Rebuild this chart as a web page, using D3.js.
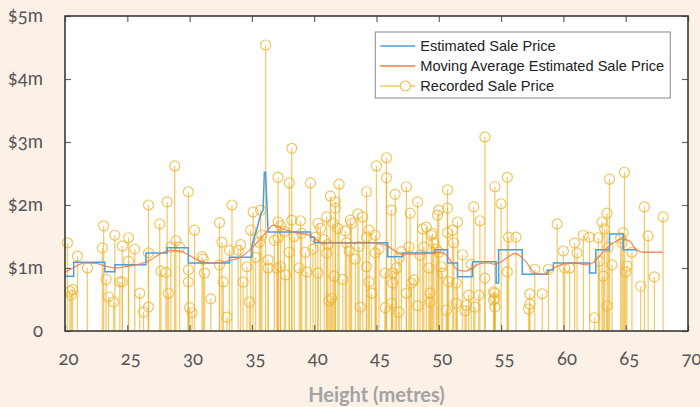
<!DOCTYPE html>
<html>
<head>
<meta charset="utf-8">
<script src="https://cdn.jsdelivr.net/npm/d3@7"></script>
<style>
  body { margin: 0; background: #fcf1e7; }
  svg { display: block; }
  .tick-label text { font-family: Lato, "Open Sans", sans-serif; font-size: 18.5px; fill: #555; font-variant-numeric: oldstyle-nums; font-feature-settings: "onum"; }
  .legend text { font-family: "Liberation Sans", Arial, sans-serif; font-size: 14.6px; fill: #222; }
</style>
</head>
<body>
<div id="chart"></div>
<script>
var xTicks = [20, 25, 30, 35, 40, 45, 50, 55, 60, 65, 70];
var yTicks = [0, 1, 2, 3, 4, 5];

// estimated sale price ($m) vs height, step-like
var estHeight = [20.0, 20.7, 20.7, 23.2, 23.2, 24.0, 24.0, 26.5, 26.5, 28.2, 28.2, 29.9, 29.9, 33.2, 33.2, 35.0,
  35.0, 35.4, 35.7, 35.9, 36.0, 36.1, 36.3, 39.7, 39.7, 40.0, 40.0, 45.9, 45.9, 47.1, 47.1, 49.7, 49.7, 50.7,
  50.7, 51.5, 51.5, 52.7, 52.7, 54.6, 54.6, 54.8, 54.8, 56.7, 56.7, 58.7, 58.7, 59.2, 59.2, 62.1, 62.1, 62.6,
  62.6, 63.7, 63.7, 64.8, 64.8, 65.9];
var estPrice = [0.87, 0.87, 1.09, 1.09, 0.94, 0.94, 1.05, 1.05, 1.24, 1.24, 1.32, 1.32, 1.08, 1.08, 1.17, 1.17,
  1.35, 1.62, 1.85, 1.92, 2.52, 2.52, 1.57, 1.57, 1.49, 1.49, 1.40, 1.40, 1.18, 1.18, 1.24, 1.24, 1.29, 1.29,
  1.08, 1.08, 0.86, 0.86, 1.10, 1.10, 0.76, 0.76, 1.29, 1.29, 0.90, 0.90, 0.97, 0.97, 1.08, 1.08, 0.92, 0.92,
  1.29, 1.29, 1.54, 1.54, 1.29, 1.29];

// moving average
var avgHeight = [20.0, 20.8, 21.6, 22.6, 23.4, 24.2, 25.0, 26.0, 26.8, 27.6, 28.4, 29.2, 29.8, 30.5, 31.5, 32.5,
  33.3, 34.0, 34.8, 35.5, 36.2, 36.7, 37.5, 38.5, 39.5, 40.0, 40.6, 45.0, 45.8, 46.5, 47.0, 48.0, 49.0, 50.0,
  50.5, 51.0, 51.5, 52.2, 52.8, 53.3, 54.0, 54.5, 55.0, 55.6, 56.1, 57.0, 57.7, 58.5, 59.2, 60.0, 61.0, 61.8,
  62.5, 63.2, 64.0, 64.7, 65.3, 65.8, 66.4, 68.0];
var avgPrice = [0.93, 1.02, 1.08, 1.07, 1.02, 1.00, 1.03, 1.06, 1.12, 1.22, 1.28, 1.27, 1.22, 1.14, 1.08, 1.09,
  1.12, 1.16, 1.28, 1.42, 1.58, 1.68, 1.62, 1.56, 1.53, 1.48, 1.40, 1.40, 1.36, 1.27, 1.22, 1.22, 1.23, 1.25,
  1.22, 1.10, 0.97, 0.95, 1.02, 1.07, 1.08, 1.06, 1.10, 1.18, 1.23, 1.10, 0.92, 0.90, 1.00, 1.06, 1.08, 1.05,
  1.10, 1.26, 1.40, 1.46, 1.43, 1.30, 1.25, 1.25];

// recorded sales
var recHeight = [20.2, 20.4, 20.5, 20.6, 21.0, 21.8, 23.0, 23.1, 23.3, 23.5, 23.9, 24.0, 24.4, 24.6, 24.6, 25.1,
  25.1, 25.6, 26.0, 26.3, 26.7, 26.7, 26.7, 27.6, 27.7, 28.1, 28.2, 28.3, 28.5, 28.8, 28.9, 29.2, 29.9, 29.9,
  29.9, 30.0, 30.2, 30.4, 31.0, 31.1, 31.2, 31.7, 32.4, 32.6, 32.4, 32.7, 33.0, 33.4, 33.2, 33.9, 34.1, 34.3,
  34.6, 34.8, 35.1, 35.3, 35.6, 35.7, 36.1, 36.3, 36.3, 37.0, 37.1, 37.1, 37.3, 37.1, 37.3, 37.7, 38.2, 38.0,
  38.2, 38.0, 38.8, 38.9, 38.4, 39.3, 39.4, 39.7, 39.0, 40.1, 40.3, 40.5, 40.3, 41.0, 41.1, 41.0, 41.2, 41.4,
  41.3, 41.5, 41.7, 41.7, 41.9, 41.6, 42.0, 42.5, 42.3, 42.8, 42.9, 43.0, 43.3, 43.5, 43.7, 43.9, 44.2, 44.2,
  44.4, 44.2, 44.4, 44.6, 44.9, 44.9, 45.0, 45.7, 45.7, 45.8, 45.8, 46.2, 46.3, 46.3, 46.5, 46.6, 46.8, 46.2,
  46.8, 47.4, 47.4, 47.6, 47.7, 47.8, 48.0, 48.3, 48.3, 48.7, 48.8, 49.0, 49.2, 49.3, 49.3, 49.4, 49.5, 49.6,
  49.8, 49.9, 50.0, 50.0, 50.2, 50.3, 50.6, 50.7, 50.7, 50.7, 50.8, 51.1, 51.2, 51.4, 51.4, 51.5, 51.9, 52.1,
  52.2, 52.4, 52.9, 53.2, 52.8, 53.3, 53.7, 53.7, 54.4, 54.4, 54.5, 54.5, 54.5, 54.5, 55.0, 55.5, 55.5, 55.6,
  56.2, 57.3, 57.3, 57.2, 57.7, 58.3, 58.8, 59.5, 60.0, 60.1, 60.5, 60.9, 61.1, 61.6, 62.1, 62.5, 62.8, 62.9,
  63.1, 63.2, 63.5, 63.5, 63.6, 63.7, 63.9, 64.7, 64.8, 64.9, 65.0, 65.1, 65.5, 66.2, 66.5, 66.8, 67.3, 68.0,
  34.9, 35.8, 36.8, 37.6, 39.9, 40.8, 42.6, 43.6, 45.2, 47.0, 48.5, 52.6, 63.3, 64.6];
var recPrice = [1.40, 0.63, 0.57, 0.66, 1.19, 1.00, 1.32, 1.67, 0.82, 0.54, 0.46, 1.52, 0.78, 0.78, 1.35, 1.48,
  1.11, 1.30, 0.60, 0.30, 0.38, 1.24, 2.00, 1.70, 0.95, 0.93, 2.05, 0.60, 1.33, 2.62, 1.43, 1.33, 2.21, 0.97,
  0.78, 0.37, 0.29, 1.60, 1.18, 1.14, 0.92, 0.51, 1.72, 1.41, 1.05, 0.78, 0.22, 2.00, 1.28, 1.28, 1.37, 0.78,
  1.02, 0.46, 1.89, 1.17, 1.41, 1.92, 4.54, 1.13, 1.00, 1.00, 2.44, 1.73, 1.67, 1.48, 1.02, 0.89, 2.90, 2.35,
  1.76, 1.25, 1.00, 1.75, 1.50, 1.25, 0.94, 2.35, 1.55, 1.49, 1.71, 1.63, 0.92, 1.81, 1.37, 1.24, 0.48, 0.52,
  2.14, 1.71, 2.05, 1.95, 1.63, 0.87, 2.33, 1.59, 0.82, 1.27, 1.76, 1.71, 1.14, 1.86, 0.38, 1.81, 2.21, 1.49,
  1.60, 1.02, 0.78, 0.60, 1.52, 1.24, 2.62, 0.92, 0.37, 2.75, 2.43, 1.92, 0.92, 0.76, 2.17, 1.00, 1.16, 0.44,
  0.30, 2.29, 0.60, 1.33, 1.87, 0.76, 0.81, 2.05, 0.40, 1.62, 1.33, 1.65, 1.00, 0.60, 0.46, 1.52, 1.55, 1.40,
  1.30, 1.84, 1.92, 1.25, 1.02, 0.92, 0.33, 2.24, 1.95, 1.56, 0.78, 1.60, 1.40, 0.76, 0.44, 1.73, 1.21, 0.32,
  0.41, 0.57, 0.38, 0.57, 1.97, 1.75, 3.08, 0.84, 0.62, 0.49, 2.29, 0.60, 0.52, 0.38, 2.02, 2.44, 0.94, 1.49,
  1.49, 0.59, 0.43, 0.35, 0.98, 0.59, 0.98, 1.70, 1.27, 1.00, 1.00, 1.40, 1.24, 1.52, 1.49, 0.21, 1.48, 1.11,
  1.73, 0.87, 1.87, 0.40, 1.33, 2.41, 1.05, 1.40, 1.56, 2.52, 0.94, 1.03, 1.25, 0.71, 1.97, 1.51, 0.86, 1.81,
  1.60, 1.52, 1.44, 1.58, 1.30, 1.45, 1.40, 1.34, 1.30, 1.26, 1.20, 1.06, 1.62, 1.48];

var seriesNames = ["Estimated Sale Price", "Moving Average Estimated Sale Price", "Recorded Sale Price"];
var colors = ["#4b9fda", "#ec7b50", "#eeb22a"];

var W = 700, H = 407;
var margin = {top: 16, right: 12, bottom: 76, left: 65},
    width = W - margin.left - margin.right,
    height = H - margin.top - margin.bottom;

var x = d3.scaleLinear().domain([20, 70]).range([0, width]);
var y = d3.scaleLinear().domain([0, 5]).range([height, 0]);

var svg = d3.select("#chart").append("svg")
    .attr("width", W)
    .attr("height", H)
  .append("g")
    .attr("transform", "translate(" + margin.left + "," + margin.top + ")");

svg.append("rect")
    .attr("width", width)
    .attr("height", height)
    .attr("fill", "#fff");

// stems
var rec = recHeight.map(function(h, i) { return {h: h, p: recPrice[i]}; });

svg.selectAll(".stem")
    .data(rec)
  .enter().append("line")
    .attr("class", "stem")
    .attr("x1", function(d) { return x(d.h); })
    .attr("x2", function(d) { return x(d.h); })
    .attr("y1", y(0))
    .attr("y2", function(d) { return y(d.p); })
    .attr("stroke", colors[2])
    .attr("stroke-opacity", 0.68)
    .attr("stroke-width", 1.3);

svg.selectAll(".dot")
    .data(rec)
  .enter().append("circle")
    .attr("class", "dot")
    .attr("cx", function(d) { return x(d.h); })
    .attr("cy", function(d) { return y(d.p); })
    .attr("r", 5)
    .attr("fill", "none")
    .attr("stroke", colors[2])
    .attr("stroke-opacity", 0.75)
    .attr("stroke-width", 1.2);

var line = d3.line()
    .x(function(d) { return x(d[0]); })
    .y(function(d) { return y(d[1]); });

svg.append("path")
    .datum(estHeight.map(function(h, i) { return [h, estPrice[i]]; }))
    .attr("d", line)
    .attr("fill", "none")
    .attr("stroke", colors[0])
    .attr("stroke-width", 1.5);

svg.append("path")
    .datum(avgHeight.map(function(h, i) { return [h, avgPrice[i]]; }))
    .attr("d", line.curve(d3.curveMonotoneX))
    .attr("fill", "none")
    .attr("stroke", colors[1])
    .attr("stroke-opacity", 0.85)
    .attr("stroke-width", 1.3);

// axes, ticks pointing inward
var xAxis = d3.axisBottom(x).tickValues(xTicks).tickSizeInner(-6).tickSizeOuter(0).tickPadding(21);
var yAxis = d3.axisLeft(y).tickValues(yTicks).tickSizeInner(-6).tickSizeOuter(0).tickPadding(22)
    .tickFormat(function(d) { return d === 0 ? "0" : "$" + d + "m"; });

svg.append("g")
    .attr("class", "tick-label")
    .attr("transform", "translate(0," + height + ")")
    .call(xAxis)
    .call(function(g) { g.selectAll("text").attr("dx", 3); });

svg.append("g")
    .attr("class", "tick-label")
    .call(yAxis);

svg.append("g")
    .call(d3.axisTop(x).tickValues(xTicks).tickSizeInner(-6).tickSizeOuter(0).tickFormat(""));

svg.append("g")
    .attr("transform", "translate(" + width + ",0)")
    .call(d3.axisRight(y).tickValues(yTicks).tickSizeInner(-6).tickSizeOuter(0).tickFormat(""));

svg.selectAll(".domain").remove();
svg.selectAll(".tick line").attr("stroke", "#666").attr("stroke-width", 1.2);

svg.append("rect")
    .attr("width", width)
    .attr("height", height)
    .attr("fill", "none")
    .attr("stroke", "#3a3a3a")
    .attr("stroke-width", 1.6);

svg.append("text")
    .attr("x", width / 2)
    .attr("y", height + 71)
    .attr("text-anchor", "middle")
    .style("font-family", "Lato, 'Open Sans', sans-serif")
    .style("font-weight", "bold")
    .style("font-size", "20px")
    .style("fill", "#a3a3a3")
    .text("Height (metres)");

// legend
var lx = x(44.9), ly = 16;
var lg = svg.append("g").attr("class", "legend");

lg.append("rect")
    .attr("x", lx)
    .attr("y", ly)
    .attr("width", 295)
    .attr("height", 66)
    .attr("fill", "#fff")
    .attr("stroke", "#888")
    .attr("stroke-width", 1);

seriesNames.forEach(function(name, i) {
  var yy = ly + 14 + i * 20;
  lg.append("line")
      .attr("x1", lx + 5).attr("x2", lx + 40)
      .attr("y1", yy).attr("y2", yy)
      .attr("stroke", colors[i])
      .attr("stroke-opacity", i === 2 ? 0.7 : 1)
      .attr("stroke-width", 1.4);
  if (i === 2) {
    lg.append("circle")
        .attr("cx", lx + 30).attr("cy", yy).attr("r", 5)
        .attr("fill", "#fff")
        .attr("stroke", colors[2])
        .attr("stroke-opacity", 0.8)
        .attr("stroke-width", 1.2);
  }
  lg.append("text")
      .attr("x", lx + 45)
      .attr("y", yy)
      .attr("dy", "0.36em")
      .text(name);
});
</script>
</body>
</html>
